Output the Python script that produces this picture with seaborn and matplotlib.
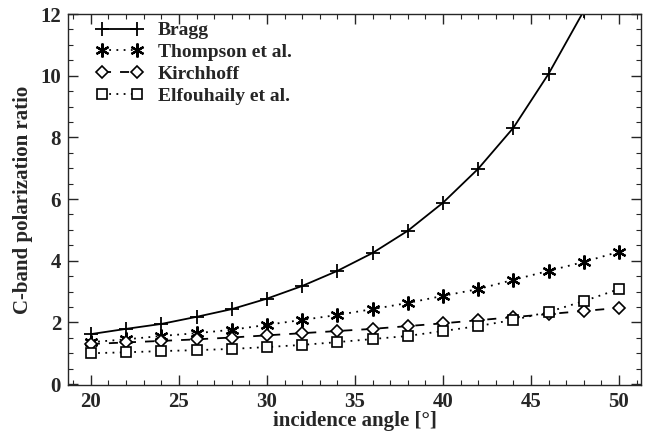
import matplotlib
matplotlib.use("Agg")
import matplotlib.pyplot as plt
import seaborn as sns
import pandas as pd
import numpy as np
from matplotlib.ticker import MultipleLocator

angles = [20, 22, 24, 26, 28, 30, 32, 34, 36, 38, 40, 42, 44, 46, 48, 50]
bragg = [1.62, 1.79, 1.95, 2.18, 2.43, 2.77, 3.18, 3.67, 4.25, 4.97, 5.88, 6.98, 8.31, 10.06, 12.1, 14.8]
thompson = [1.36, 1.45, 1.56, 1.65, 1.76, 1.92, 2.08, 2.24, 2.43, 2.63, 2.86, 3.08, 3.38, 3.67, 3.96, 4.29]
kirchhoff = [1.30, 1.35, 1.40, 1.45, 1.51, 1.58, 1.65, 1.72, 1.79, 1.88, 1.97, 2.07, 2.17, 2.27, 2.37, 2.47]
elfouhaily = [1.00, 1.03, 1.07, 1.10, 1.14, 1.20, 1.27, 1.36, 1.46, 1.56, 1.72, 1.88, 2.08, 2.34, 2.69, 3.08]

names = ["Bragg", "Thompson et al.", "Kirchhoff", "Elfouhaily et al."]
series = [bragg, thompson, kirchhoff, elfouhaily]

sns.set_style("ticks")
plt.rcParams['font.family'] = ['Liberation Serif', 'DejaVu Serif']
plt.rcParams['font.weight'] = 'bold'
plt.rcParams['mathtext.default'] = 'regular'

fig = plt.figure(figsize=(6.46, 4.34), dpi=100)
ax = fig.add_axes([68/646, 1 - 385/434, (641-68)/646, (385-14)/434])

styles = [
    dict(linestyle='-', marker='+', markersize=10, markeredgewidth=1.3, markerfacecolor='black'),
    dict(linestyle=(0, (1, 3)), marker=(6, 2, 0), markersize=10, markeredgewidth=1.6),
    dict(linestyle=(0, (5, 5)), marker='D', markersize=6, markeredgewidth=1.2, markerfacecolor='white'),
    dict(linestyle=(0, (1, 3)), marker='s', markersize=7.5, markeredgewidth=1.2, markerfacecolor='white'),
]

for name, vals, st in zip(names, series, styles):
    df = pd.DataFrame({"angle": angles, "ratio": vals})
    sns.lineplot(data=df, x="angle", y="ratio", ax=ax, color='black', linewidth=1.3,
                 markeredgecolor='black', label=name, **st)

ax.set_xlim(18.7, 51.25)
ax.set_ylim(-0.03, 12.0)
ax.xaxis.set_major_locator(MultipleLocator(5))
ax.xaxis.set_minor_locator(MultipleLocator(1))
ax.yaxis.set_major_locator(MultipleLocator(2))
ax.yaxis.set_minor_locator(MultipleLocator(0.5))
ax.tick_params(which='both', direction='in', top=True, right=True, labelsize=15)
ax.tick_params(which='major', length=7, width=1, pad=5)
ax.tick_params(which='minor', length=3.5, width=0.8)
for lab in ax.get_xticklabels() + ax.get_yticklabels():
    lab.set_fontweight('bold')
for sp in ax.spines.values():
    sp.set_linewidth(1.0)
    sp.set_visible(True)

ax.set_xlabel("incidence angle [°]", fontsize=15, fontweight='bold', labelpad=-1)
ax.set_ylabel("C-band polarization ratio", fontsize=15, fontweight='bold', labelpad=5)

leg = ax.legend(loc='upper left', frameon=False, numpoints=2, handlelength=2.4,
                fontsize=14, borderaxespad=0.0, labelspacing=0.22, handletextpad=0.8,
                bbox_to_anchor=(0.035, 1.0))
for t in leg.get_texts():
    t.set_fontweight('bold')

fig.savefig("out.png", dpi=100)
